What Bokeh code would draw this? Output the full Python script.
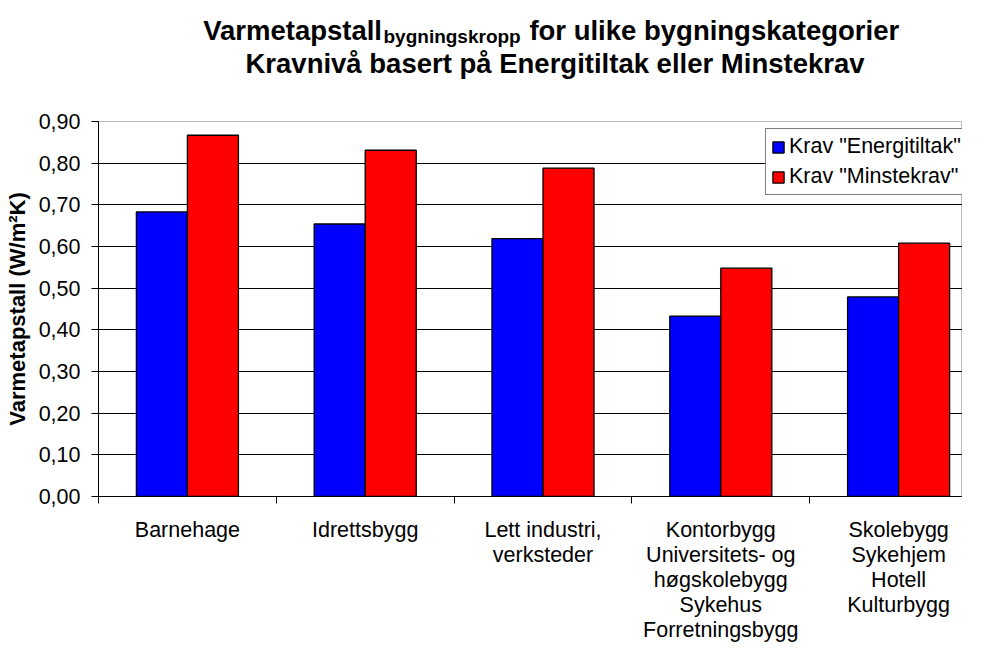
from bokeh.plotting import figure
from bokeh.layouts import column
from bokeh.models import (Range1d, FixedTicker, CustomJSTickFormatter, Legend,
                          LegendItem, ColumnDataSource)
from bokeh.core.properties import value
from bokeh.transform import dodge
from bokeh.embed import file_html
from bokeh.resources import INLINE

# ---- data ----
categories = [
    "Barnehage",
    "Idrettsbygg",
    "Lett industri,\nverksteder",
    "Kontorbygg\nUniversitets- og\nhøgskolebygg\nSykehus\nForretningsbygg",
    "Skolebygg\nSykehjem\nHotell\nKulturbygg",
]
energitiltak = [0.683, 0.654, 0.619, 0.433, 0.479]
minstekrav = [0.867, 0.831, 0.788, 0.548, 0.608]
series_names = ['Krav "Energitiltak"', 'Krav "Minstekrav"']
y_ticks = [0.0, 0.1, 0.2, 0.3, 0.4, 0.5, 0.6, 0.7, 0.8, 0.9]
title_main = "Varmetapstall"
title_sub = "bygningskropp"
title_rest = "for ulike bygningskategorier"
title_line2 = "Kravnivå basert på Energitiltak eller Minstekrav"
y_label = "Varmetapstall (W/m²K)"

FONT = "Liberation Sans"
W = 962
H = 645
LEFT = 98        # frame starts at page x = 106
PX_PER_CAT = 177.8

# the right part of the chart is cut off, as in the original picture
xr = Range1d(0, (W - LEFT) / PX_PER_CAT)

# ---------------- title strip ----------------
TH = 107
X0 = 8 + LEFT
X1 = 8 + W
tf = figure(width=W, height=TH, output_backend="svg", toolbar_location=None,
            x_range=Range1d(X0, X1), y_range=Range1d(8 + TH, 8),
            x_axis_type=None, y_axis_type=None, title=None,
            min_border_left=LEFT, min_border_right=0,
            min_border_top=0, min_border_bottom=0)
tf.outline_line_color = None
tf.grid.visible = False
tf.background_fill_color = "white"
tf.border_fill_color = "white"

fs_main, fs_sub = 27.5, 19
w_main = 6.558 * fs_main
w_sub = 7.223 * fs_sub
w_rest = 13.726 * fs_main
w_space = 0.278 * fs_main + 1
cx = 562.5
start = cx - (w_main + w_sub + w_space + w_rest) / 2
tstyle = dict(text_font=value(FONT), text_font_style="bold", text_color="black",
              text_baseline="alphabetic")
tf.text(x=[start], y=[38], text=[title_main], text_align="left",
        text_font_size=f"{fs_main}px", **tstyle)
tf.text(x=[start + w_main], y=[44], text=[title_sub], text_align="left",
        text_font_size=f"{fs_sub}px", **tstyle)
tf.text(x=[start + w_main + w_sub + w_space], y=[38], text=[title_rest],
        text_align="left", text_font_size=f"{fs_main}px", **tstyle)
tf.text(x=[cx], y=[71], text=[title_line2], text_align="center",
        text_font_size=f"{fs_main}px", **tstyle)

# ---------------- main chart ----------------
src = ColumnDataSource(dict(
    xc=[i + 0.5 for i in range(len(categories))],
    e=energitiltak,
    m=minstekrav,
))

PH = H - TH
TOP_B, FRAME_H = 14, 378
BOT_B = PH - TOP_B - FRAME_H
p = figure(width=W, height=PH, output_backend="svg",
           toolbar_location=None, x_range=xr, y_range=Range1d(0, 0.9),
           min_border_left=LEFT, min_border_right=0, min_border_top=TOP_B,
           min_border_bottom=BOT_B)
p.background_fill_color = "white"
p.border_fill_color = "white"
p.outline_line_color = "#bdbdbd"

bw = 0.287
r1 = p.vbar(x=dodge("xc", -bw / 2, range=xr), top="e", width=bw, source=src,
            fill_color="#0000ff", line_color="black", line_width=1.3)
r2 = p.vbar(x=dodge("xc", bw / 2, range=xr), top="m", width=bw, source=src,
            fill_color="#ff0000", line_color="black", line_width=1.3)

p.xgrid.visible = False
p.ygrid.ticker = FixedTicker(ticks=y_ticks[1:-1])
p.ygrid.grid_line_color = "black"
p.ygrid.grid_line_width = 1

ya = p.yaxis[0]
ya.ticker = FixedTicker(ticks=y_ticks)
ya.formatter = CustomJSTickFormatter(code="return tick.toFixed(2).replace('.', ',');")
ya.major_tick_out = 7
ya.major_tick_in = 0
ya.minor_tick_out = 0
ya.minor_tick_in = 0
ya.major_label_standoff = 11
ya.major_label_text_font = FONT
ya.major_label_text_font_size = "21.5px"
ya.major_label_text_color = "black"
ya.axis_line_color = "black"
ya.major_tick_line_color = "black"
ya.axis_label = y_label
ya.axis_label_text_font = FONT
ya.axis_label_text_font_size = "22px"
ya.axis_label_text_font_style = "bold"
ya.axis_label_text_color = "black"
ya.axis_label_standoff = 6

# x axis: labels at category centres, tick marks at category boundaries
xa = p.xaxis[0]
xa.ticker = FixedTicker(ticks=[i + 0.5 for i in range(len(categories))],
                        minor_ticks=list(range(len(categories) + 1)))
xa.formatter = CustomJSTickFormatter(args=dict(labels=categories),
                                     code="return labels[Math.floor(tick)];")
xa.major_tick_out = 0
xa.major_tick_in = 0
xa.minor_tick_out = 7
xa.minor_tick_in = 0
xa.minor_tick_line_color = "black"
xa.axis_line_color = "black"
xa.major_label_standoff = 14
xa.major_label_text_font = FONT
xa.major_label_text_font_size = "21.5px"
xa.major_label_text_color = "black"
xa.major_label_text_line_height = 1.05

legend = Legend(items=[LegendItem(label=series_names[0], renderers=[r1]),
                       LegendItem(label=series_names[1], renderers=[r2])],
                location=(667, 301))
legend.label_text_font = FONT
legend.label_text_font_size = "21.5px"
legend.label_text_color = "black"
legend.glyph_width = 14
legend.glyph_height = 14
legend.label_height = 24
legend.label_standoff = 4
legend.spacing = 5
legend.padding = 5
legend.margin = 0
legend.border_line_color = "black"
legend.border_line_width = 1
legend.background_fill_color = "white"
legend.background_fill_alpha = 1
p.add_layout(legend, "center")

layout = column(tf, p, spacing=0)
open("out.html", "w").write(file_html(layout, INLINE))
